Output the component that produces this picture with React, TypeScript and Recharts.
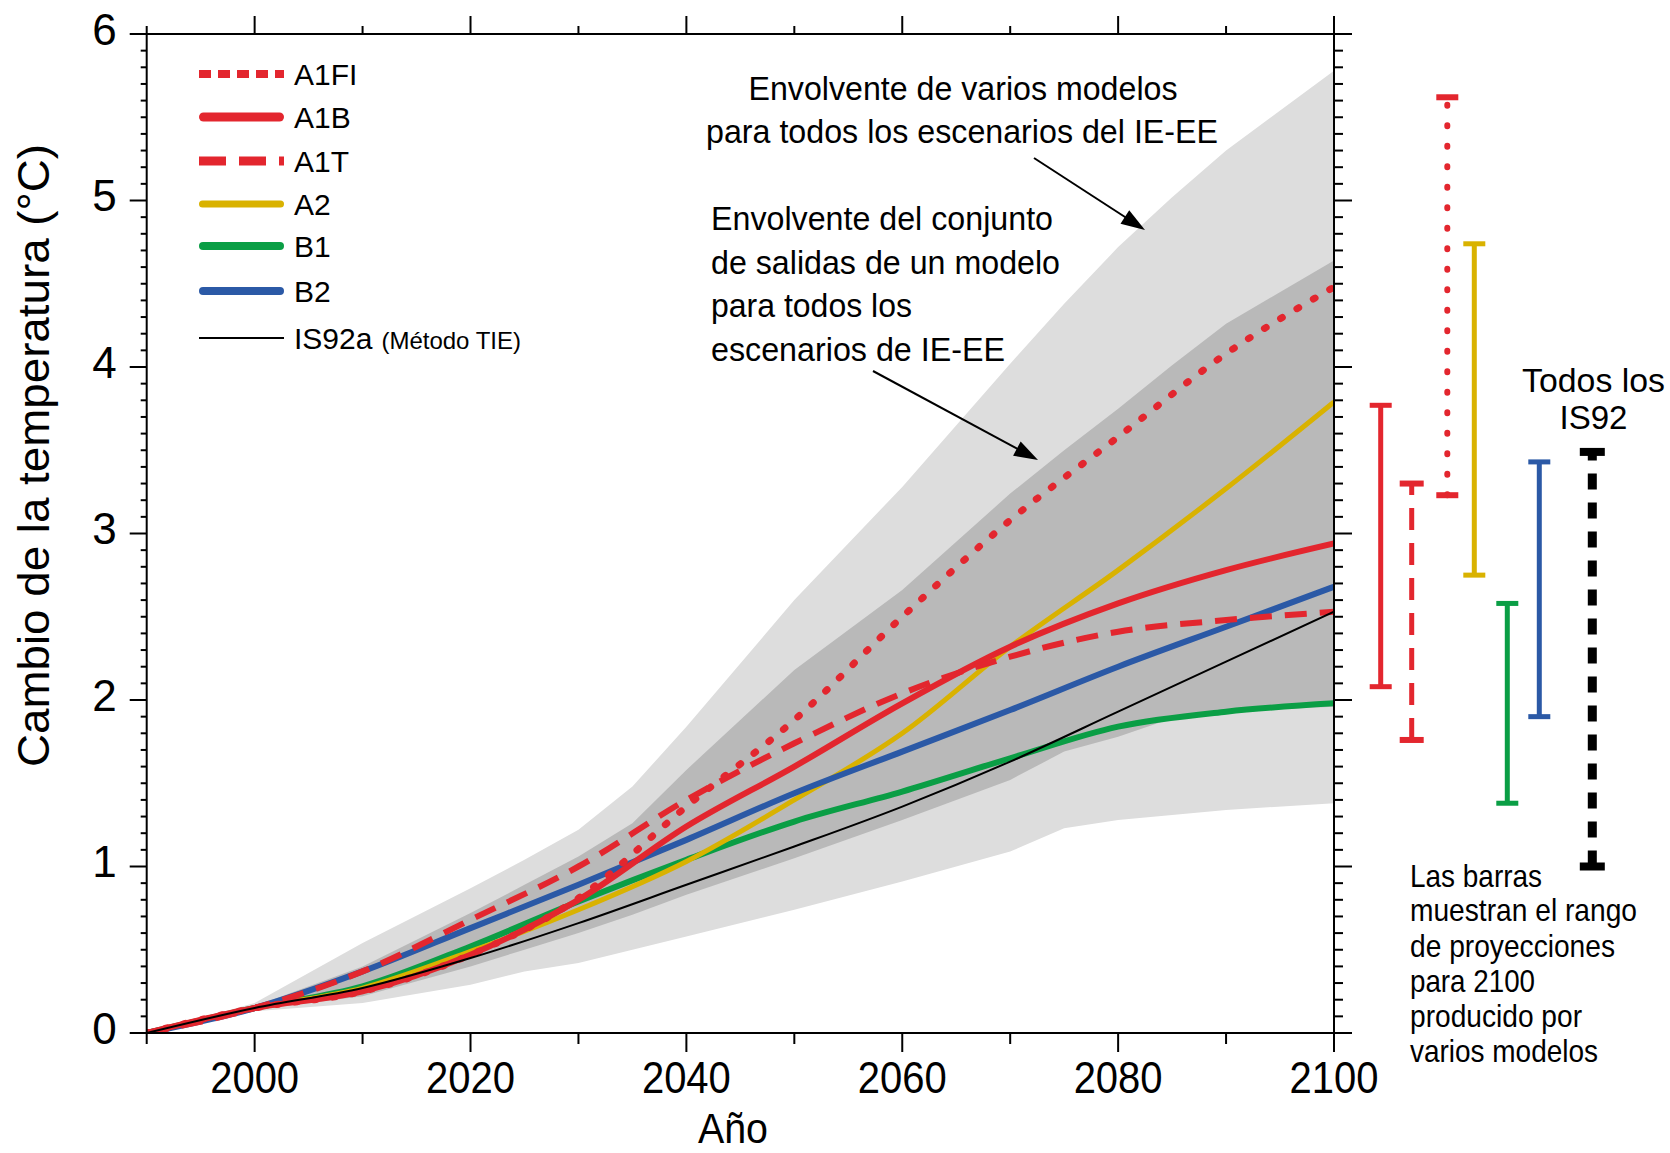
import React from "react";
import { ComposedChart, Line, Area, XAxis, YAxis } from "recharts";

const W = 1670;
const H = 1153;
const FONT = "'Liberation Sans', Arial, Helvetica, sans-serif";

const RED = "#e3262e";
const YELLOW = "#d9b200";
const GREEN = "#0a9e45";
const BLUE = "#2b59a6";
const BLACK = "#000000";
const LIGHT_GRAY = "#dddddd";
const DARK_GRAY = "#b9b9b9";

// ---- scenario curves (°C, relative to 1990) ----
const YEARS = [1990, 2000, 2010, 2020, 2030, 2040, 2050, 2060, 2070, 2080, 2090, 2100];
const A1FI = [0, 0.15, 0.25, 0.47, 0.81, 1.36, 1.88, 2.5, 3.08, 3.58, 4.08, 4.48];
const A1B = [0, 0.15, 0.25, 0.47, 0.8, 1.24, 1.6, 1.98, 2.32, 2.58, 2.78, 2.94];
const A1T = [0, 0.15, 0.37, 0.68, 1.0, 1.4, 1.74, 2.04, 2.26, 2.41, 2.48, 2.53];
const A2 = [0, 0.15, 0.27, 0.49, 0.74, 1.03, 1.4, 1.8, 2.32, 2.78, 3.27, 3.79];
const B1 = [0, 0.15, 0.28, 0.52, 0.79, 1.04, 1.27, 1.45, 1.65, 1.84, 1.93, 1.98];
const B2 = [0, 0.15, 0.37, 0.63, 0.89, 1.16, 1.44, 1.69, 1.94, 2.2, 2.44, 2.68];
const IS92A = [0, 0.15, 0.27, 0.45, 0.66, 0.89, 1.12, 1.36, 1.63, 1.93, 2.23, 2.53];

// ---- envelopes ----
const ENV_YEARS = [1990, 2000, 2010, 2020, 2025, 2030, 2035, 2040, 2050, 2060, 2070, 2075, 2080, 2085, 2090, 2100];
const OUTER_LOW = [0, 0.13, 0.18, 0.29, 0.37, 0.42, 0.5, 0.58, 0.74, 0.91, 1.09, 1.23, 1.28, 1.31, 1.34, 1.38];
const OUTER_HIGH = [0, 0.18, 0.54, 0.87, 1.04, 1.22, 1.48, 1.84, 2.6, 3.28, 4.02, 4.38, 4.72, 5.02, 5.3, 5.78];
const INNER_LOW = [0, 0.14, 0.22, 0.4, 0.5, 0.6, 0.71, 0.83, 1.05, 1.28, 1.52, 1.69, 1.78, 1.89, 1.93, 1.96];
const INNER_HIGH = [0, 0.16, 0.4, 0.72, 0.89, 1.06, 1.26, 1.58, 2.18, 2.66, 3.24, 3.5, 3.75, 4.01, 4.26, 4.64];

// ---- 2100 ranges (bars at the right) ----
const RANGE_NAMES = ["A1B", "A1T", "A1FI", "A2", "B1", "B2", "IS92"];
const RANGE_LOW = [2.08, 1.76, 3.23, 2.75, 1.38, 1.9, 1.0];
const RANGE_HIGH = [3.77, 3.3, 5.62, 4.74, 2.58, 3.43, 3.49];

// ---- axis ticks ----
const X_TICKS = [1990, 2000, 2010, 2020, 2030, 2040, 2050, 2060, 2070, 2080, 2090, 2100];
const Y_TICKS = Array.from({ length: 61 }, (_, i) => i / 10);

// ---- build the chart table ----
const ALL_YEARS = Array.from(new Set([...YEARS, ...ENV_YEARS])).sort((a, b) => a - b);
const pick = (arr: number[], y: number) => {
  const i = YEARS.indexOf(y);
  return i >= 0 ? arr[i] : undefined;
};
const TABLE = ALL_YEARS.map((y) => {
  const e = ENV_YEARS.indexOf(y);
  return {
    year: y,
    a1fi: pick(A1FI, y),
    a1b: pick(A1B, y),
    a1t: pick(A1T, y),
    a2: pick(A2, y),
    b1: pick(B1, y),
    b2: pick(B2, y),
    is92a: pick(IS92A, y),
    outer: e >= 0 ? [OUTER_LOW[e], OUTER_HIGH[e]] : undefined,
    inner: e >= 0 ? [INNER_LOW[e], INNER_HIGH[e]] : undefined,
  };
});

// ---- styles (kept apart from data) ----
const SERIES_STYLE: Record<string, any> = {
  a1fi: { color: RED, width: 7, dash: "2 17", cap: "round" },
  a1b: { color: RED, width: 6, dash: undefined, cap: "butt" },
  a1t: { color: RED, width: 6, dash: "22 13", cap: "butt" },
  a2: { color: YELLOW, width: 5, dash: undefined, cap: "butt" },
  b1: { color: GREEN, width: 6, dash: undefined, cap: "butt" },
  b2: { color: BLUE, width: 6, dash: undefined, cap: "butt" },
  is92a: { color: BLACK, width: 2, dash: undefined, cap: "butt" },
};
const DRAW_ORDER = ["b1", "a2", "b2", "a1b", "a1t", "a1fi", "is92a"];

const RANGE_STYLE: Record<string, any> = {
  A1B: { color: RED, width: 5, dash: undefined, cap: "butt", capW: 22, capH: 5 },
  A1T: { color: RED, width: 5, dash: "22 13", cap: "butt", capW: 24, capH: 6 },
  A1FI: { color: RED, width: 6, dash: "1 19.5", cap: "round", capW: 22, capH: 6 },
  A2: { color: YELLOW, width: 5, dash: undefined, cap: "butt", capW: 22, capH: 5 },
  B1: { color: GREEN, width: 5, dash: undefined, cap: "butt", capW: 22, capH: 5 },
  B2: { color: BLUE, width: 5, dash: undefined, cap: "butt", capW: 22, capH: 5 },
  IS92: { color: BLACK, width: 9, dash: "16 13", cap: "butt", capW: 25, capH: 8 },
};
// horizontal slot of each range bar, in px to the right of the frame
const RANGE_SLOT = [46.7, 77.7, 113.3, 140.3, 173.3, 205.3, 258.3];

const PLOT = { left: 146.7, right: 1334, top: 34, bottom: 1033 };
const AX = 1; // thickness reserved by each axis (must be > 0 for recharts to draw it)

const isMajorYear = (v: number) => v !== 1990 && (v - 2000) % 20 === 0;
const isMajorT = (v: number) => Math.abs(v - Math.round(v)) < 1e-6;

function BottomTick(p: any) {
  const { x, payload } = p;
  const y = p.y - AX;
  const v = payload.value;
  const major = isMajorYear(v);
  return (
    <g>
      <line x1={x} x2={x} y1={y} y2={y + (major ? 20 : 12)} stroke={BLACK} strokeWidth={2} />
      {major ? (
        <text x={x} y={y + 61} textAnchor="middle" fontSize={45} fontFamily={FONT} fill={BLACK}
          textLength={89} lengthAdjust="spacingAndGlyphs">{v}</text>
      ) : null}
    </g>
  );
}
function TopTick(p: any) {
  const { x, y, payload } = p;
  const major = isMajorYear(payload.value);
  return <line x1={x} x2={x} y1={y} y2={y - (major ? 18 : 8)} stroke={BLACK} strokeWidth={2} />;
}
function LeftTick(p: any) {
  const { x, y, payload } = p;
  const v = payload.value;
  const major = isMajorT(v);
  return (
    <g>
      <line x1={x} x2={x - (major ? 17 : 6)} y1={y} y2={y} stroke={BLACK} strokeWidth={2} />
      {major ? (
        <text x={x - 30} y={y + 10.5} textAnchor="end" fontSize={44} fontFamily={FONT} fill={BLACK}>
          {Math.round(v)}
        </text>
      ) : null}
    </g>
  );
}
function RightTick(p: any) {
  const { x, y, payload } = p;
  const major = isMajorT(payload.value);
  return <line x1={x} x2={x + (major ? 18 : 9)} y1={y} y2={y} stroke={BLACK} strokeWidth={2} />;
}

const LEGEND_ROWS = [
  { key: "a1fi", label: "A1FI", lw: 8, dash: "12 7", cap: "butt" },
  { key: "a1b", label: "A1B", lw: 9, dash: undefined, cap: "round" },
  { key: "a1t", label: "A1T", lw: 9, dash: "27 13", cap: "butt" },
  { key: "a2", label: "A2", lw: 7, dash: undefined, cap: "round" },
  { key: "b1", label: "B1", lw: 8, dash: undefined, cap: "round" },
  { key: "b2", label: "B2", lw: 8, dash: undefined, cap: "round" },
  { key: "is92a", label: "IS92a", lw: 2, dash: undefined, cap: "butt" },
];
const LEGEND_Y = [74, 117, 161, 204, 246, 291, 338];

function Arrow({ x1, y1, x2, y2 }: { x1: number; y1: number; x2: number; y2: number }) {
  const dx = x2 - x1;
  const dy = y2 - y1;
  const len = Math.sqrt(dx * dx + dy * dy);
  const ux = dx / len;
  const uy = dy / len;
  const hl = 24;
  const hw = 8;
  const bx = x2 - ux * hl;
  const by = y2 - uy * hl;
  const pts = `${x2},${y2} ${bx - uy * hw},${by + ux * hw} ${bx + uy * hw},${by - ux * hw}`;
  return (
    <g>
      <line x1={x1} y1={y1} x2={bx + ux * 2} y2={by + uy * 2} stroke={BLACK} strokeWidth={2} />
      <polygon points={pts} fill={BLACK} />
    </g>
  );
}

function Overlay() {
  const t = { fontFamily: FONT, fill: BLACK } as any;
  const barText = [
    { s: "Las barras", y: 886.5, w: 132 },
    { s: "muestran el rango", y: 921, w: 227 },
    { s: "de proyecciones", y: 957, w: 205 },
    { s: "para 2100", y: 991.5, w: 125 },
    { s: "producido por", y: 1027, w: 172 },
    { s: "varios modelos", y: 1061.5, w: 188 },
  ];
  const block = [
    { s: "Envolvente del conjunto", y: 230, w: 342 },
    { s: "de salidas de un modelo", y: 274, w: 349 },
    { s: "para todos los", y: 317, w: 201 },
    { s: "escenarios de IE-EE", y: 361, w: 294 },
  ];
  return (
    <svg width={W} height={H} style={{ position: "absolute", left: 0, top: 0, pointerEvents: "none" }}>
      {/* axis titles */}
      <text {...t} transform="translate(49,455.5) rotate(-90)" textAnchor="middle" fontSize={44}
        textLength={623} lengthAdjust="spacingAndGlyphs">Cambio de la temperatura (°C)</text>
      <text {...t} x={733} y={1143} textAnchor="middle" fontSize={43} textLength={70}
        lengthAdjust="spacingAndGlyphs">Año</text>

      {/* legend */}
      {LEGEND_ROWS.map((r, i) => {
        const st = SERIES_STYLE[r.key];
        const y = LEGEND_Y[i];
        const inset = r.cap === "round" ? r.lw / 2 : 0;
        return (
          <g key={r.key}>
            <line x1={199 + inset} x2={284 - inset} y1={y} y2={y} stroke={st.color} strokeWidth={r.lw}
              strokeDasharray={r.dash} strokeLinecap={r.cap as any} />
            <text {...t} x={294} y={y + 11} fontSize={30}>
              {r.label}
              {r.key === "is92a" ? (
                <tspan fontSize={24} dx={9}>(Método TIE)</tspan>
              ) : null}
            </text>
          </g>
        );
      })}

      {/* annotations */}
      <text {...t} x={963} y={100} textAnchor="middle" fontSize={34} textLength={429}
        lengthAdjust="spacingAndGlyphs">Envolvente de varios modelos</text>
      <text {...t} x={962} y={143} textAnchor="middle" fontSize={34} textLength={512}
        lengthAdjust="spacingAndGlyphs">para todos los escenarios del IE-EE</text>
      {block.map((b) => (
        <text key={b.s} {...t} x={711} y={b.y} fontSize={33} textLength={b.w} lengthAdjust="spacingAndGlyphs">{b.s}</text>
      ))}
      <Arrow x1={1034} y1={158} x2={1145} y2={230} />
      <Arrow x1={873} y1={371} x2={1038} y2={460} />

      <text {...t} x={1593.5} y={392} textAnchor="middle" fontSize={34} textLength={143}
        lengthAdjust="spacingAndGlyphs">Todos los</text>
      <text {...t} x={1593.5} y={428.6} textAnchor="middle" fontSize={34} textLength={68}
        lengthAdjust="spacingAndGlyphs">IS92</text>
      {barText.map((b) => (
        <text key={b.s} {...t} x={1410} y={b.y} fontSize={32} textLength={b.w} lengthAdjust="spacingAndGlyphs">{b.s}</text>
      ))}
    </svg>
  );
}

function RangeBars() {
  return (
    <div style={{ position: "absolute", left: 0, top: 0 }}>
      <ComposedChart width={W} height={H}
        margin={{ top: PLOT.top, bottom: H - PLOT.bottom, left: PLOT.right, right: 0 }}>
        <XAxis dataKey="s" type="number" domain={[0, W - PLOT.right]} hide height={0} />
        <YAxis type="number" domain={[0, 6]} hide width={0} />
        {RANGE_NAMES.map((name, i) => {
          const st = RANGE_STYLE[name];
          const pts = [
            { s: RANGE_SLOT[i], v: RANGE_LOW[i] },
            { s: RANGE_SLOT[i], v: RANGE_HIGH[i] },
          ];
          return (
            <Line key={name} data={pts} dataKey="v" type="linear" stroke={st.color}
              strokeWidth={st.width} strokeDasharray={st.dash} strokeLinecap={st.cap}
              isAnimationActive={false} legendType="none" activeDot={false}
              dot={(d: any) => (
                <rect key={`${name}-${d.index}`} x={d.cx - st.capW / 2} y={d.cy - st.capH / 2}
                  width={st.capW} height={st.capH} fill={st.color} />
              )} />
          );
        })}
      </ComposedChart>
    </div>
  );
}

export default function App() {
  const axisLine = { stroke: BLACK, strokeWidth: 2 };
  return (
    <div style={{ position: "relative", width: W, height: H, background: "#fff", fontFamily: FONT }}>
      <style>{"html,body{margin:0;padding:0;overflow:hidden;background:#fff}"}</style>
      <ComposedChart width={W} height={H} data={TABLE}
        margin={{
          top: PLOT.top - AX,
          right: W - PLOT.right - AX,
          bottom: H - PLOT.bottom - AX,
          left: PLOT.left - AX,
        }}>
        <Area xAxisId="b" yAxisId="l" dataKey="outer" type="linear" fill={LIGHT_GRAY} fillOpacity={1}
          stroke="none" connectNulls isAnimationActive={false} legendType="none" activeDot={false} />
        <Area xAxisId="b" yAxisId="l" dataKey="inner" type="linear" fill={DARK_GRAY} fillOpacity={1}
          stroke="none" connectNulls isAnimationActive={false} legendType="none" activeDot={false} />
        {DRAW_ORDER.map((k) => {
          const st = SERIES_STYLE[k];
          return (
            <Line key={k} xAxisId="b" yAxisId="l" dataKey={k} type="monotone" stroke={st.color}
              strokeWidth={st.width} strokeDasharray={st.dash} strokeLinecap={st.cap}
              dot={false} activeDot={false} connectNulls isAnimationActive={false} legendType="none" />
          );
        })}
        <Line xAxisId="t" yAxisId="r" dataKey="a2" stroke="none" dot={false} activeDot={false}
          connectNulls isAnimationActive={false} legendType="none" />
        <XAxis xAxisId="b" dataKey="year" type="number" domain={[1990, 2100]} allowDataOverflow
          ticks={X_TICKS} interval={0} height={AX} tickSize={0} tickMargin={0} tickLine={false}
          axisLine={axisLine} tick={(p: any) => <BottomTick {...p} />} orientation="bottom" />
        <XAxis xAxisId="t" dataKey="year" type="number" domain={[1990, 2100]} allowDataOverflow
          ticks={X_TICKS} interval={0} height={AX} tickSize={0} tickMargin={0} tickLine={false}
          axisLine={axisLine} tick={(p: any) => <TopTick {...p} />} orientation="top" />
        <YAxis yAxisId="l" type="number" domain={[0, 6]} allowDataOverflow ticks={Y_TICKS} interval={0}
          width={AX} tickSize={0} tickMargin={0} tickLine={false} axisLine={axisLine}
          tick={(p: any) => <LeftTick {...p} />} orientation="left" />
        <YAxis yAxisId="r" type="number" domain={[0, 6]} allowDataOverflow ticks={Y_TICKS} interval={0}
          width={AX} tickSize={0} tickMargin={0} tickLine={false} axisLine={axisLine}
          tick={(p: any) => <RightTick {...p} />} orientation="right" />
      </ComposedChart>
      <RangeBars />
      <Overlay />
    </div>
  );
}
